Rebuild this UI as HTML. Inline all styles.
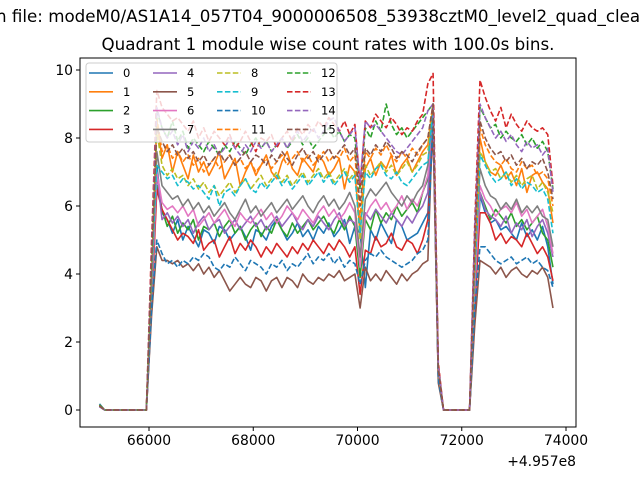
<!DOCTYPE html>
<html><head><meta charset="utf-8"><style>
body{margin:0;background:#fff;width:640px;height:480px;overflow:hidden}
svg{font-family:"DejaVu Sans","Liberation Sans",sans-serif}
</style></head><body>
<svg id="chart" width="640" height="480" viewBox="0 0 640 480" xmlns="http://www.w3.org/2000/svg">
<rect width="640" height="480" fill="#fff"/>
<text x="-4" y="22" font-size="16.7">n file: modeM0/AS1A14_057T04_9000006508_53938cztM0_level2_quad_clean.evt</text>
<text x="328" y="50" font-size="16.7" text-anchor="middle">Quadrant 1 module wise count rates with 100.0s bins.</text>
<g id="plot"></g>
</svg>
<script>
const xStart = 65050, binWidth = 100;
const firstVal = [0.18,0.15,0.12,0.1,0.12,0.1,0.12,0.1,0.15,0.12,0.1,0.12,0.15,0.12,0.1,0.12];
const midVal = [1.0,1.2,1.1,0.9,1.0,0.8,1.1,1.0,1.2,1.1,0.9,1.2,1.3,1.4,1.3,1.2];
const segA = [
[3.5,7.2,5.8,5.6,5.2,5.6,5.0,5.4,5.1,4.8,5.3,5.2,4.9,5.4,5.3,5.0,5.2,5.4,5.1,4.7,5.3,5.2,5.0,5.4,5.6,5.3,5.0,5.2,5.5,5.1,5.3,5.0,5.4,5.2,5.5,5.1,5.3,5.6,4.9,5.4,5.2,3.6,5.3,5.0,5.5,5.2,4.9,5.6,5.4,5.0,5.1,5.2,5.5,5.8,8.5],
[4.0,8.5,7.4,7.8,7.0,7.6,7.2,6.8,7.5,7.0,7.3,6.9,7.2,7.6,6.8,7.1,7.4,6.6,7.0,7.3,6.9,7.2,7.5,7.0,6.8,7.3,7.6,7.1,6.9,7.4,7.2,7.0,7.5,7.3,6.9,7.1,7.4,6.5,7.2,7.0,5.2,7.1,7.4,6.9,7.3,7.1,7.5,6.9,7.2,7.4,7.0,7.3,7.6,7.8,8.8],
[3.2,6.6,5.9,5.4,5.7,5.2,5.5,5.3,5.6,5.0,5.4,5.3,5.5,5.1,5.4,5.6,5.2,5.4,5.0,5.3,5.5,5.1,5.4,5.2,5.6,5.3,5.1,5.5,5.2,5.4,5.6,5.3,5.5,5.7,5.4,5.2,5.6,5.3,5.7,5.4,3.9,5.6,5.3,5.9,5.5,5.8,5.6,6.0,5.7,5.9,6.1,5.8,6.4,6.8,8.7],
[3.0,6.5,5.9,5.6,5.3,5.0,5.2,5.1,4.9,5.3,4.7,4.9,5.0,4.5,4.8,5.1,4.6,4.9,4.7,5.0,4.8,4.5,4.8,4.6,4.9,4.7,4.5,4.8,4.6,4.9,4.7,5.0,4.8,4.6,4.9,4.7,5.0,4.8,4.5,4.8,3.4,4.7,4.6,5.1,4.8,4.9,5.2,4.8,4.7,5.0,4.9,4.6,5.0,5.6,8.2],
[3.3,7.0,5.6,5.8,5.5,5.7,5.4,5.6,5.2,5.5,5.7,5.3,5.5,5.6,5.2,5.4,5.6,5.3,5.5,5.7,5.4,5.6,5.3,5.5,5.7,5.4,5.6,5.8,5.5,5.3,5.6,5.4,5.7,5.5,5.3,5.6,5.8,5.4,5.6,5.5,4.3,5.8,5.6,5.9,5.7,5.5,5.8,5.6,5.4,5.7,5.5,5.8,6.0,6.4,9.0],
[2.8,4.8,4.4,4.4,4.3,4.4,4.2,4.3,4.1,4.3,4.0,4.2,3.9,4.1,3.8,3.5,3.7,3.9,3.7,3.6,3.9,3.8,3.5,3.8,3.9,3.6,3.9,3.8,3.6,4.0,3.8,3.7,3.9,3.8,4.0,3.9,4.1,3.8,3.9,4.0,3.0,4.2,3.8,4.0,3.8,4.1,3.9,3.7,4.0,3.8,4.0,4.1,4.3,4.4,8.9],
[3.4,7.0,6.1,5.9,6.0,5.8,6.0,5.7,5.9,5.4,5.6,5.8,5.5,5.7,5.9,5.6,5.4,5.8,5.6,5.5,5.7,5.9,5.6,5.8,5.5,5.7,6.0,5.8,5.6,5.9,5.7,5.5,5.8,6.0,5.7,5.9,5.6,5.8,6.1,5.8,4.2,5.7,6.0,6.2,5.9,6.1,5.8,6.0,6.3,5.9,6.2,6.0,6.4,6.9,8.9],
[3.6,7.6,6.6,6.4,6.2,6.3,6.0,6.2,5.9,6.1,5.8,6.0,5.7,5.9,6.1,5.8,5.6,5.9,6.2,5.8,6.0,5.7,5.9,6.1,5.8,6.0,6.2,5.9,6.1,6.3,6.0,5.8,6.1,6.3,6.0,6.2,5.9,6.1,6.4,6.0,4.5,6.2,6.5,6.3,6.5,6.7,6.4,6.2,6.0,6.3,6.1,6.4,6.6,7.2,9.0],
[4.0,8.2,7.2,6.9,7.1,6.8,6.9,6.6,6.8,6.5,6.7,6.4,6.6,6.3,6.5,6.7,6.4,6.6,6.8,6.5,6.7,6.9,6.6,6.8,7.0,6.7,6.9,6.6,6.8,7.0,6.7,6.9,7.1,6.8,7.0,6.7,6.9,7.1,6.8,7.0,5.0,7.2,6.9,7.1,7.3,7.0,7.2,6.9,7.1,7.3,7.0,7.2,7.5,7.6,9.0],
[4.0,7.2,7.0,6.8,6.9,6.6,6.8,6.7,6.5,6.6,6.4,6.2,6.6,6.0,6.4,6.5,6.3,6.6,6.8,6.5,6.4,6.7,6.5,6.7,6.9,6.6,6.8,6.5,6.7,6.9,6.6,6.8,7.0,6.7,6.9,6.6,6.8,7.0,6.7,6.9,5.2,7.0,6.8,7.1,7.2,6.9,6.8,7.0,6.7,6.6,6.8,7.0,7.2,7.3,8.8],
[3.0,5.0,4.6,4.3,4.4,4.2,4.4,4.3,4.5,4.4,4.6,4.5,4.2,4.1,4.3,4.2,4.5,4.3,4.1,4.4,4.3,4.2,4.0,4.3,4.2,4.4,4.1,4.3,4.2,4.4,4.6,4.3,4.5,4.4,4.6,4.3,4.5,4.2,4.4,4.3,3.7,4.4,4.6,4.5,4.7,4.5,4.4,4.3,4.2,4.3,4.4,4.6,4.7,5.0,8.6],
[4.3,8.6,7.6,7.8,7.4,7.6,7.3,7.5,7.2,7.4,7.0,7.2,7.4,7.1,7.3,7.5,7.2,7.4,7.1,7.3,7.0,7.2,7.4,7.1,7.3,7.5,7.2,7.4,7.6,7.3,7.5,7.2,7.4,7.6,7.3,7.5,7.4,7.7,7.3,7.5,5.6,7.6,7.4,7.7,7.5,7.8,7.5,7.3,7.6,7.4,7.7,7.5,7.8,8.0,9.0],
[4.5,8.8,8.3,8.0,8.5,7.9,8.2,7.7,8.0,7.8,7.6,7.9,7.7,7.5,7.8,7.6,7.9,7.7,7.5,7.8,8.0,7.7,7.9,7.6,7.8,8.0,7.7,7.9,8.1,7.8,8.0,7.7,7.9,8.1,8.3,8.0,8.2,7.9,8.1,8.0,6.5,8.3,8.0,8.5,8.2,9.0,8.4,8.1,8.3,8.0,8.2,8.4,8.6,8.8,9.0],
[5.0,9.4,8.9,8.7,8.5,8.6,8.4,8.2,8.5,8.0,8.3,7.9,8.2,8.0,7.8,8.1,7.7,7.9,8.2,7.9,7.6,8.0,7.9,8.1,7.7,8.0,8.2,7.9,8.3,8.1,8.4,8.2,8.5,8.3,8.6,8.4,8.2,8.5,8.1,8.4,6.6,8.5,8.3,8.7,8.5,8.3,8.6,8.4,8.1,8.3,8.2,8.5,8.7,9.6,9.9],
[4.6,8.9,8.3,8.0,8.2,7.8,8.1,7.6,7.9,7.7,8.0,7.6,7.8,7.5,7.7,8.0,7.7,7.5,7.8,7.6,7.9,7.7,7.9,7.6,7.8,8.0,7.7,8.0,8.2,7.9,8.1,8.3,8.0,8.2,8.5,8.6,8.2,7.9,8.1,8.3,6.7,8.5,8.3,8.4,8.2,8.0,7.8,7.6,7.5,7.7,7.9,8.1,8.3,8.8,9.0],
[4.4,8.3,7.9,7.6,7.8,7.5,7.7,7.4,7.6,7.3,7.5,7.2,7.4,7.6,7.3,7.5,7.2,7.4,7.6,7.3,7.5,7.4,7.2,7.5,7.3,7.6,7.4,7.2,7.5,7.7,7.4,7.6,7.3,7.5,7.7,7.4,7.6,7.8,7.5,7.7,6.0,7.7,7.5,7.8,7.6,7.9,7.7,7.4,7.6,7.5,7.3,7.6,7.8,8.0,9.0]
];
const segB = [
[3.0,6.3,5.8,5.5,5.6,5.3,5.4,5.2,5.0,5.5,5.1,5.3,5.0,5.4,4.8,3.7],
[4.0,8.0,7.3,7.0,6.9,7.2,6.8,7.0,6.6,7.1,6.4,6.9,7.0,6.7,6.5,5.5],
[3.2,6.4,6.0,5.6,5.9,5.7,5.5,5.8,5.4,5.6,5.3,5.5,5.7,5.2,5.0,4.2],
[3.0,5.8,5.8,5.5,5.0,5.2,4.9,5.1,5.0,4.8,5.2,4.9,4.6,4.8,4.5,3.8],
[3.5,6.4,5.9,5.7,5.6,5.4,5.7,5.2,5.5,5.3,5.6,5.1,5.4,5.6,5.2,4.5],
[2.5,4.4,4.3,4.2,4.0,4.2,3.9,4.1,4.2,4.0,3.9,4.1,4.0,4.2,3.9,3.0],
[3.6,6.6,6.2,6.0,5.7,5.9,6.0,5.8,6.1,5.7,5.9,5.5,5.7,5.9,5.4,4.6],
[4.0,7.1,6.6,6.3,6.2,5.9,6.1,5.9,6.2,5.8,6.0,5.8,6.0,5.7,5.6,4.8],
[4.2,7.6,7.3,7.0,7.1,6.8,7.0,6.7,6.9,6.6,6.8,6.9,6.5,6.7,6.4,5.8],
[4.0,7.5,7.2,6.9,6.7,6.8,7.0,6.6,6.8,6.5,6.7,6.6,6.4,6.5,6.2,5.2],
[3.0,4.8,4.8,4.6,4.4,4.3,4.4,4.5,4.3,4.4,4.5,4.3,4.4,4.2,4.1,3.6],
[4.5,8.3,7.8,7.5,7.3,7.2,7.4,7.1,7.0,7.3,7.1,7.2,6.9,7.0,6.8,6.0],
[5.0,8.9,8.6,8.3,8.4,8.0,8.2,8.0,7.9,8.1,7.8,8.0,7.7,7.9,7.6,6.5],
[5.5,9.7,9.2,8.8,8.5,8.9,8.3,8.7,8.4,8.2,8.5,8.3,8.2,8.3,8.1,6.6],
[5.3,9.0,8.6,8.3,8.0,8.2,7.9,8.1,7.8,7.6,7.9,7.7,7.8,7.5,7.7,6.4],
[4.8,8.5,8.0,7.7,7.5,7.6,7.3,7.5,7.2,7.4,7.1,7.3,7.2,7.4,7.0,6.2]
];
const seriesNames = ["0","1","2","3","4","5","6","7","8","9","10","11","12","13","14","15"];
const colors = ["#1f77b4","#ff7f0e","#2ca02c","#d62728","#9467bd","#8c564b","#e377c2","#7f7f7f","#bcbd22","#17becf","#1f77b4","#ff7f0e","#2ca02c","#d62728","#9467bd","#8c564b"];
const xTicks = [66000,68000,70000,72000,74000];
const yTicks = [0,2,4,6,8,10];

const NS = "http://www.w3.org/2000/svg";
const L = 80, R = 576, T = 58, B = 427;
const xs = v => 149 + (v - 66000) * (566 - 149) / 8000;
const ys = v => 410 - v * 34;
const g = document.getElementById("plot");
function mk(tag, attrs, parent) {
  const e = document.createElementNS(NS, tag);
  for (const k in attrs) e.setAttribute(k, attrs[k]);
  (parent || g).appendChild(e);
  return e;
}
function buildSeries(i) {
  const zeros9 = [0,0,0,0,0,0,0,0,0], zeros6 = [0,0,0,0,0,0];
  return [firstVal[i]].concat(zeros9, segA[i], [midVal[i]], zeros6, segB[i]);
}
const clip = mk("clipPath", {id: "pc"});
mk("rect", {x: L, y: T, width: R - L, height: B - T}, clip);
const lines = mk("g", {"clip-path": "url(#pc)"});


for (let i = 0; i < 16; i++) {
  const vals = buildSeries(i);
  const pts = vals.map((v, j) => xs(xStart + j * binWidth).toFixed(2) + "," + ys(v).toFixed(2)).join(" ");
  const p = mk("polyline", {points: pts, fill: "none", stroke: colors[i], "stroke-width": 1.6, "stroke-linejoin": "round"}, lines);
  if (i >= 8) p.setAttribute("stroke-dasharray", "5.5,2.4");
  
  
}
const frame = mk("rect", {x: L, y: T, width: R - L, height: B - T, fill: "none", stroke: "#000", "stroke-width": 1});


xTicks.forEach(t => {
  const x = xs(t);
  mk("line", {x1: x, x2: x, y1: B, y2: B + 4, stroke: "#000"});
  const tx = mk("text", {x: x, y: B + 18, "font-size": 13.9, "text-anchor": "middle"});
  tx.textContent = t;
  
  
});
yTicks.forEach(t => {
  const y = ys(t);
  mk("line", {x1: L - 4, x2: L, y1: y, y2: y, stroke: "#000"});
  const tx = mk("text", {x: L - 7, y: y + 5, "font-size": 13.9, "text-anchor": "end"});
  tx.textContent = t;
  
  
});
const off = mk("text", {x: R, y: 466, "font-size": 13.9, "text-anchor": "end"});
off.textContent = "+4.957e8";


const leg = mk("g", {});


mk("rect", {x: 86, y: 63, width: 251, height: 79, rx: 3, fill: "#fff", "fill-opacity": 0.8, stroke: "#ccc"}, leg);
const colX = [89, 153, 217, 287];
for (let i = 0; i < 16; i++) {
  const c = Math.floor(i / 4), r = i % 4;
  const y = 73 + r * 18.8, x = colX[c];
  const e = mk("g", {}, leg);
  
  
  const ln = mk("line", {x1: x, x2: x + 24, y1: y, y2: y, stroke: colors[i], "stroke-width": 1.6}, e);
  if (i >= 8) ln.setAttribute("stroke-dasharray", "5.5,2.4");
  const tx = mk("text", {x: x + 34, y: y + 4, "font-size": 11.5}, e);
  tx.textContent = seriesNames[i];
}
</script>
</body></html>
